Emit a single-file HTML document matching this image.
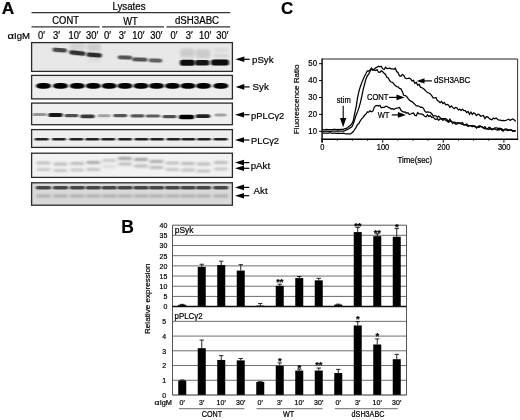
<!DOCTYPE html>
<html><head><meta charset="utf-8"><style>
html,body{margin:0;padding:0;background:#fff;}
svg{display:block;font-family:"Liberation Sans", sans-serif;will-change:transform;}
text{stroke:#000;stroke-width:0.2px;}


</style></head><body>
<svg width="520" height="420" viewBox="0 0 520 420">
<rect width="520" height="420" fill="#fff"/>
<text x="1.80" y="13.70" font-size="17.3" text-anchor="start" font-weight="bold" fill="#000" >A</text>
<text transform="translate(129.00,9.50) scale(1,1.06)" font-size="9.7" text-anchor="middle" font-weight="normal" fill="#000" >Lysates</text>
<line x1="31.50" y1="12.70" x2="230.20" y2="12.70" stroke="#333" stroke-width="1.2"/>
<text transform="translate(65.60,23.90) scale(1,1.08)" font-size="9.4" text-anchor="middle" font-weight="normal" fill="#000" >CONT</text>
<text transform="translate(130.50,24.90) scale(1,1.08)" font-size="9.3" text-anchor="middle" font-weight="normal" fill="#000" >WT</text>
<text transform="translate(197.00,23.90) scale(1,1.05)" font-size="9.7" text-anchor="middle" font-weight="normal" fill="#000" >dSH3ABC</text>
<line x1="31.50" y1="26.90" x2="99.60" y2="26.90" stroke="#333" stroke-width="1.2"/>
<line x1="102.10" y1="26.90" x2="164.00" y2="26.90" stroke="#333" stroke-width="1.2"/>
<line x1="166.50" y1="26.90" x2="230.20" y2="26.90" stroke="#333" stroke-width="1.2"/>
<text transform="translate(7.4,39.0) scale(1.18,1.0)" font-size="9.6">&#945;</text>
<text transform="translate(14.00,39.00) scale(1,1.02)" font-size="9.5" text-anchor="start" font-weight="normal" fill="#000" >IgM</text>
<text transform="translate(41.50,39.00) scale(1,1.08)" font-size="9.4" text-anchor="middle" font-weight="normal" fill="#000" >0&#8242;</text>
<text transform="translate(56.60,39.00) scale(1,1.08)" font-size="9.4" text-anchor="middle" font-weight="normal" fill="#000" >3&#8242;</text>
<text transform="translate(74.70,39.00) scale(1,1.08)" font-size="9.4" text-anchor="middle" font-weight="normal" fill="#000" >10&#8242;</text>
<text transform="translate(92.20,39.00) scale(1,1.08)" font-size="9.4" text-anchor="middle" font-weight="normal" fill="#000" >30&#8242;</text>
<text transform="translate(107.40,39.00) scale(1,1.08)" font-size="9.4" text-anchor="middle" font-weight="normal" fill="#000" >0&#8242;</text>
<text transform="translate(122.30,39.00) scale(1,1.08)" font-size="9.4" text-anchor="middle" font-weight="normal" fill="#000" >3&#8242;</text>
<text transform="translate(138.30,39.00) scale(1,1.08)" font-size="9.4" text-anchor="middle" font-weight="normal" fill="#000" >10&#8242;</text>
<text transform="translate(156.40,39.00) scale(1,1.08)" font-size="9.4" text-anchor="middle" font-weight="normal" fill="#000" >30&#8242;</text>
<text transform="translate(173.90,39.00) scale(1,1.08)" font-size="9.4" text-anchor="middle" font-weight="normal" fill="#000" >0&#8242;</text>
<text transform="translate(189.20,39.00) scale(1,1.08)" font-size="9.4" text-anchor="middle" font-weight="normal" fill="#000" >3&#8242;</text>
<text transform="translate(205.10,39.00) scale(1,1.08)" font-size="9.4" text-anchor="middle" font-weight="normal" fill="#000" >10&#8242;</text>
<text transform="translate(222.30,39.00) scale(1,1.08)" font-size="9.4" text-anchor="middle" font-weight="normal" fill="#000" >30&#8242;</text>
<defs><filter id="b1" x="-30%" y="-100%" width="160%" height="300%"><feGaussianBlur stdDeviation="1.0 0.75"/></filter><filter id="b2" x="-30%" y="-100%" width="160%" height="300%"><feGaussianBlur stdDeviation="1.6 1.6"/></filter><filter id="b3" x="-30%" y="-100%" width="160%" height="300%"><feGaussianBlur stdDeviation="1.5 1.1"/></filter><clipPath id="cpc"><rect x="322" y="59" width="195" height="80"/></clipPath></defs>
<rect x="31.6" y="42.60" width="200.8" height="28.80" fill="#e8e8e8"/>
<rect x="31.6" y="75.40" width="200.8" height="23.50" fill="#eeeeee"/>
<rect x="31.6" y="103.10" width="200.8" height="21.60" fill="#efefef"/>
<rect x="31.6" y="129.60" width="200.8" height="17.80" fill="#eeeeee"/>
<rect x="31.6" y="153.20" width="200.8" height="24.20" fill="#f2f2f2"/>
<rect x="31.6" y="182.80" width="200.8" height="22.40" fill="#d9d9d9"/>
<g>
<rect x="70.00" y="43.00" width="15.00" height="7.00" rx="2.50" ry="2.50" fill="rgb(209,209,209)" filter="url(#b2)"/>
<rect x="87.00" y="44.00" width="14.00" height="7.00" rx="2.50" ry="2.50" fill="rgb(204,204,204)" filter="url(#b2)"/>
<rect x="87.00" y="58.00" width="14.00" height="4.00" rx="2.00" ry="2.00" fill="rgb(218,218,218)" filter="url(#b2)"/>
<rect x="180.50" y="49.00" width="14.00" height="8.00" rx="2.50" ry="2.50" fill="rgb(200,200,200)" filter="url(#b2)"/>
<rect x="181.00" y="49.50" width="13.00" height="2.00" rx="1.00" ry="1.00" fill="rgb(209,209,209)" filter="url(#b2)"/>
<rect x="181.00" y="54.50" width="13.00" height="2.00" rx="1.00" ry="1.00" fill="rgb(209,209,209)" filter="url(#b2)"/>
<rect x="196.00" y="49.50" width="14.00" height="8.00" rx="2.50" ry="2.50" fill="rgb(200,200,200)" filter="url(#b2)"/>
<rect x="196.50" y="50.00" width="13.00" height="2.00" rx="1.00" ry="1.00" fill="rgb(209,209,209)" filter="url(#b2)"/>
<rect x="196.50" y="55.00" width="13.00" height="2.00" rx="1.00" ry="1.00" fill="rgb(204,204,204)" filter="url(#b2)"/>
<rect x="213.50" y="48.75" width="15.00" height="2.50" rx="1.25" ry="1.25" fill="rgb(209,209,209)" filter="url(#b2)"/>
<rect x="213.50" y="54.25" width="15.00" height="2.50" rx="1.25" ry="1.25" fill="rgb(204,204,204)" filter="url(#b2)"/>
<rect x="52.45" y="48.00" width="14.50" height="4.20" rx="2.10" ry="2.10" fill="rgb(70,70,70)" filter="url(#b1)" transform="rotate(4 59.7 50.1)"/>
<rect x="69.15" y="50.75" width="16.50" height="4.50" rx="2.25" ry="2.25" fill="rgb(51,51,51)" filter="url(#b1)" transform="rotate(6 77.4 53.0)"/>
<rect x="86.45" y="52.70" width="15.50" height="4.60" rx="2.30" ry="2.30" fill="rgb(42,42,42)" filter="url(#b1)" transform="rotate(4 94.2 55.0)"/>
<rect x="117.75" y="55.60" width="14.50" height="4.00" rx="2.00" ry="2.00" fill="rgb(84,84,84)" filter="url(#b1)" transform="rotate(2 125.0 57.6)"/>
<rect x="132.05" y="57.40" width="15.50" height="4.00" rx="2.00" ry="2.00" fill="rgb(84,84,84)" filter="url(#b1)" transform="rotate(2 139.8 59.4)"/>
<rect x="148.75" y="58.60" width="13.50" height="4.00" rx="2.00" ry="2.00" fill="rgb(97,97,97)" filter="url(#b1)" transform="rotate(2 155.5 60.6)"/>
<rect x="179.90" y="59.80" width="15.00" height="6.00" rx="2.50" ry="2.50" fill="rgb(12,12,12)" filter="url(#b1)"/>
<rect x="194.90" y="60.00" width="14.60" height="5.60" rx="2.50" ry="2.50" fill="rgb(19,19,19)" filter="url(#b1)"/>
<rect x="211.00" y="59.40" width="18.00" height="6.00" rx="2.50" ry="2.50" fill="rgb(12,12,12)" filter="url(#b1)"/>
</g>
<rect x="36.20" y="83.10" width="14.60" height="5.60" rx="5.50" ry="2.50" fill="rgb(0,0,0)" filter="url(#b1)"/>
<rect x="53.20" y="83.10" width="14.60" height="5.60" rx="5.50" ry="2.50" fill="rgb(0,0,0)" filter="url(#b1)"/>
<rect x="70.00" y="83.10" width="14.60" height="5.60" rx="5.50" ry="2.50" fill="rgb(0,0,0)" filter="url(#b1)"/>
<rect x="86.00" y="83.10" width="14.60" height="5.60" rx="5.50" ry="2.50" fill="rgb(0,0,0)" filter="url(#b1)"/>
<rect x="101.90" y="83.10" width="14.60" height="5.60" rx="5.50" ry="2.50" fill="rgb(0,0,0)" filter="url(#b1)"/>
<rect x="117.70" y="83.10" width="14.60" height="5.60" rx="5.50" ry="2.50" fill="rgb(0,0,0)" filter="url(#b1)"/>
<rect x="133.70" y="83.10" width="14.60" height="5.60" rx="5.50" ry="2.50" fill="rgb(0,0,0)" filter="url(#b1)"/>
<rect x="149.20" y="83.10" width="14.60" height="5.60" rx="5.50" ry="2.50" fill="rgb(0,0,0)" filter="url(#b1)"/>
<rect x="165.20" y="83.10" width="14.60" height="5.60" rx="5.50" ry="2.50" fill="rgb(0,0,0)" filter="url(#b1)"/>
<rect x="180.70" y="83.10" width="14.60" height="5.60" rx="5.50" ry="2.50" fill="rgb(0,0,0)" filter="url(#b1)"/>
<rect x="196.20" y="83.10" width="14.60" height="5.60" rx="5.50" ry="2.50" fill="rgb(0,0,0)" filter="url(#b1)"/>
<rect x="213.50" y="83.10" width="14.60" height="5.60" rx="5.50" ry="2.50" fill="rgb(0,0,0)" filter="url(#b1)"/>
<rect x="32.50" y="113.10" width="14.00" height="3.00" rx="1.50" ry="1.50" fill="rgb(148,148,148)" filter="url(#b1)"/>
<rect x="48.25" y="113.10" width="14.50" height="3.80" rx="1.90" ry="1.90" fill="rgb(23,23,23)" filter="url(#b1)"/>
<rect x="64.50" y="113.90" width="14.00" height="3.40" rx="1.70" ry="1.70" fill="rgb(79,79,79)" filter="url(#b1)"/>
<rect x="80.25" y="114.60" width="14.50" height="3.60" rx="1.80" ry="1.80" fill="rgb(56,56,56)" filter="url(#b1)"/>
<rect x="97.50" y="114.30" width="13.00" height="3.00" rx="1.50" ry="1.50" fill="rgb(162,162,162)" filter="url(#b1)"/>
<rect x="113.30" y="114.00" width="14.00" height="3.20" rx="1.60" ry="1.60" fill="rgb(84,84,84)" filter="url(#b1)"/>
<rect x="130.50" y="114.20" width="14.00" height="3.20" rx="1.60" ry="1.60" fill="rgb(88,88,88)" filter="url(#b1)"/>
<rect x="145.75" y="114.40" width="14.50" height="3.20" rx="1.60" ry="1.60" fill="rgb(93,93,93)" filter="url(#b1)"/>
<rect x="162.50" y="115.00" width="14.00" height="3.20" rx="1.60" ry="1.60" fill="rgb(79,79,79)" filter="url(#b1)"/>
<rect x="178.75" y="114.70" width="15.50" height="4.60" rx="2.30" ry="2.30" fill="rgb(0,0,0)" filter="url(#b1)"/>
<rect x="195.75" y="114.30" width="14.50" height="3.80" rx="1.90" ry="1.90" fill="rgb(35,35,35)" filter="url(#b1)"/>
<rect x="214.50" y="113.50" width="12.00" height="3.00" rx="1.50" ry="1.50" fill="rgb(162,162,162)" filter="url(#b1)"/>
<rect x="34.70" y="138.00" width="14.00" height="2.40" rx="1.20" ry="1.20" fill="rgb(32,32,32)" filter="url(#b1)"/>
<rect x="52.00" y="138.00" width="14.00" height="2.40" rx="1.20" ry="1.20" fill="rgb(32,32,32)" filter="url(#b1)"/>
<rect x="69.30" y="138.00" width="14.00" height="2.40" rx="1.20" ry="1.20" fill="rgb(32,32,32)" filter="url(#b1)"/>
<rect x="85.30" y="138.00" width="14.00" height="2.40" rx="1.20" ry="1.20" fill="rgb(32,32,32)" filter="url(#b1)"/>
<rect x="101.20" y="138.00" width="14.00" height="2.40" rx="1.20" ry="1.20" fill="rgb(32,32,32)" filter="url(#b1)"/>
<rect x="118.00" y="138.00" width="14.00" height="2.40" rx="1.20" ry="1.20" fill="rgb(32,32,32)" filter="url(#b1)"/>
<rect x="134.50" y="138.00" width="14.00" height="2.40" rx="1.20" ry="1.20" fill="rgb(32,32,32)" filter="url(#b1)"/>
<rect x="150.00" y="138.00" width="14.00" height="2.40" rx="1.20" ry="1.20" fill="rgb(32,32,32)" filter="url(#b1)"/>
<rect x="166.50" y="138.00" width="14.00" height="2.40" rx="1.20" ry="1.20" fill="rgb(32,32,32)" filter="url(#b1)"/>
<rect x="181.40" y="138.00" width="14.00" height="2.40" rx="1.20" ry="1.20" fill="rgb(32,32,32)" filter="url(#b1)"/>
<rect x="197.00" y="138.00" width="14.00" height="2.40" rx="1.20" ry="1.20" fill="rgb(32,32,32)" filter="url(#b1)"/>
<rect x="213.50" y="138.00" width="14.00" height="2.40" rx="1.20" ry="1.20" fill="rgb(32,32,32)" filter="url(#b1)"/>
<rect x="36.50" y="161.50" width="14.00" height="3.00" rx="1.50" ry="1.50" fill="rgb(189,189,189)" filter="url(#b3)"/>
<rect x="36.50" y="167.90" width="14.00" height="3.00" rx="1.50" ry="1.50" fill="rgb(198,198,198)" filter="url(#b3)"/>
<rect x="53.50" y="162.50" width="14.00" height="3.00" rx="1.50" ry="1.50" fill="rgb(185,185,185)" filter="url(#b3)"/>
<rect x="53.50" y="168.90" width="14.00" height="3.00" rx="1.50" ry="1.50" fill="rgb(197,197,197)" filter="url(#b3)"/>
<rect x="70.30" y="162.10" width="14.00" height="3.00" rx="1.50" ry="1.50" fill="rgb(185,185,185)" filter="url(#b3)"/>
<rect x="70.30" y="168.50" width="14.00" height="3.00" rx="1.50" ry="1.50" fill="rgb(197,197,197)" filter="url(#b3)"/>
<rect x="86.30" y="160.90" width="14.00" height="3.00" rx="1.50" ry="1.50" fill="rgb(169,169,169)" filter="url(#b3)"/>
<rect x="86.30" y="168.10" width="14.00" height="3.00" rx="1.50" ry="1.50" fill="rgb(193,193,193)" filter="url(#b3)"/>
<rect x="102.20" y="158.90" width="14.00" height="3.00" rx="1.50" ry="1.50" fill="rgb(200,200,200)" filter="url(#b3)"/>
<rect x="102.20" y="164.90" width="14.00" height="3.00" rx="1.50" ry="1.50" fill="rgb(220,220,220)" filter="url(#b3)"/>
<rect x="118.00" y="156.90" width="14.00" height="3.00" rx="1.50" ry="1.50" fill="rgb(161,161,161)" filter="url(#b3)"/>
<rect x="118.00" y="162.50" width="14.00" height="3.00" rx="1.50" ry="1.50" fill="rgb(189,189,189)" filter="url(#b3)"/>
<rect x="134.00" y="157.90" width="14.00" height="3.00" rx="1.50" ry="1.50" fill="rgb(161,161,161)" filter="url(#b3)"/>
<rect x="134.00" y="164.50" width="14.00" height="3.00" rx="1.50" ry="1.50" fill="rgb(185,185,185)" filter="url(#b3)"/>
<rect x="149.50" y="159.90" width="14.00" height="3.00" rx="1.50" ry="1.50" fill="rgb(169,169,169)" filter="url(#b3)"/>
<rect x="149.50" y="166.10" width="14.00" height="3.00" rx="1.50" ry="1.50" fill="rgb(185,185,185)" filter="url(#b3)"/>
<rect x="165.50" y="161.50" width="14.00" height="3.00" rx="1.50" ry="1.50" fill="rgb(189,189,189)" filter="url(#b3)"/>
<rect x="165.50" y="167.90" width="14.00" height="3.00" rx="1.50" ry="1.50" fill="rgb(197,197,197)" filter="url(#b3)"/>
<rect x="181.00" y="162.10" width="14.00" height="3.00" rx="1.50" ry="1.50" fill="rgb(185,185,185)" filter="url(#b3)"/>
<rect x="181.00" y="168.50" width="14.00" height="3.00" rx="1.50" ry="1.50" fill="rgb(193,193,193)" filter="url(#b3)"/>
<rect x="196.50" y="162.50" width="14.00" height="3.00" rx="1.50" ry="1.50" fill="rgb(185,185,185)" filter="url(#b3)"/>
<rect x="196.50" y="169.50" width="14.00" height="3.00" rx="1.50" ry="1.50" fill="rgb(193,193,193)" filter="url(#b3)"/>
<rect x="213.80" y="160.90" width="14.00" height="3.00" rx="1.50" ry="1.50" fill="rgb(185,185,185)" filter="url(#b3)"/>
<rect x="213.80" y="167.50" width="14.00" height="3.00" rx="1.50" ry="1.50" fill="rgb(197,197,197)" filter="url(#b3)"/>
<rect x="35.75" y="186.10" width="15.50" height="3.40" rx="1.70" ry="1.70" fill="rgb(70,70,70)" filter="url(#b1)"/>
<rect x="36.00" y="194.40" width="15.00" height="3.20" rx="1.60" ry="1.60" fill="rgb(172,172,172)" filter="url(#b3)"/>
<rect x="52.75" y="186.10" width="15.50" height="3.40" rx="1.70" ry="1.70" fill="rgb(70,70,70)" filter="url(#b1)"/>
<rect x="53.00" y="194.40" width="15.00" height="3.20" rx="1.60" ry="1.60" fill="rgb(172,172,172)" filter="url(#b3)"/>
<rect x="69.55" y="186.10" width="15.50" height="3.40" rx="1.70" ry="1.70" fill="rgb(70,70,70)" filter="url(#b1)"/>
<rect x="69.80" y="194.40" width="15.00" height="3.20" rx="1.60" ry="1.60" fill="rgb(172,172,172)" filter="url(#b3)"/>
<rect x="85.55" y="186.10" width="15.50" height="3.40" rx="1.70" ry="1.70" fill="rgb(70,70,70)" filter="url(#b1)"/>
<rect x="85.80" y="194.40" width="15.00" height="3.20" rx="1.60" ry="1.60" fill="rgb(172,172,172)" filter="url(#b3)"/>
<rect x="101.45" y="186.10" width="15.50" height="3.40" rx="1.70" ry="1.70" fill="rgb(70,70,70)" filter="url(#b1)"/>
<rect x="101.70" y="194.40" width="15.00" height="3.20" rx="1.60" ry="1.60" fill="rgb(172,172,172)" filter="url(#b3)"/>
<rect x="117.25" y="186.10" width="15.50" height="3.40" rx="1.70" ry="1.70" fill="rgb(70,70,70)" filter="url(#b1)"/>
<rect x="117.50" y="194.40" width="15.00" height="3.20" rx="1.60" ry="1.60" fill="rgb(172,172,172)" filter="url(#b3)"/>
<rect x="133.25" y="186.10" width="15.50" height="3.40" rx="1.70" ry="1.70" fill="rgb(70,70,70)" filter="url(#b1)"/>
<rect x="133.50" y="194.40" width="15.00" height="3.20" rx="1.60" ry="1.60" fill="rgb(172,172,172)" filter="url(#b3)"/>
<rect x="148.75" y="186.10" width="15.50" height="3.40" rx="1.70" ry="1.70" fill="rgb(70,70,70)" filter="url(#b1)"/>
<rect x="149.00" y="194.40" width="15.00" height="3.20" rx="1.60" ry="1.60" fill="rgb(172,172,172)" filter="url(#b3)"/>
<rect x="164.75" y="186.10" width="15.50" height="3.40" rx="1.70" ry="1.70" fill="rgb(70,70,70)" filter="url(#b1)"/>
<rect x="165.00" y="194.40" width="15.00" height="3.20" rx="1.60" ry="1.60" fill="rgb(172,172,172)" filter="url(#b3)"/>
<rect x="180.25" y="186.10" width="15.50" height="3.40" rx="1.70" ry="1.70" fill="rgb(70,70,70)" filter="url(#b1)"/>
<rect x="180.50" y="194.40" width="15.00" height="3.20" rx="1.60" ry="1.60" fill="rgb(172,172,172)" filter="url(#b3)"/>
<rect x="195.75" y="186.10" width="15.50" height="3.40" rx="1.70" ry="1.70" fill="rgb(70,70,70)" filter="url(#b1)"/>
<rect x="196.00" y="194.40" width="15.00" height="3.20" rx="1.60" ry="1.60" fill="rgb(172,172,172)" filter="url(#b3)"/>
<rect x="213.05" y="186.10" width="15.50" height="3.40" rx="1.70" ry="1.70" fill="rgb(70,70,70)" filter="url(#b1)"/>
<rect x="213.30" y="194.40" width="15.00" height="3.20" rx="1.60" ry="1.60" fill="rgb(172,172,172)" filter="url(#b3)"/>
<rect x="31.6" y="42.60" width="200.8" height="28.80" fill="none" stroke="#2a2a2a" stroke-width="1.3"/>
<rect x="31.6" y="75.40" width="200.8" height="23.50" fill="none" stroke="#2a2a2a" stroke-width="1.3"/>
<rect x="31.6" y="103.10" width="200.8" height="21.60" fill="none" stroke="#2a2a2a" stroke-width="1.3"/>
<rect x="31.6" y="129.60" width="200.8" height="17.80" fill="none" stroke="#2a2a2a" stroke-width="1.3"/>
<rect x="31.6" y="153.20" width="200.8" height="24.20" fill="none" stroke="#2a2a2a" stroke-width="1.3"/>
<rect x="31.6" y="182.80" width="200.8" height="22.40" fill="none" stroke="#2a2a2a" stroke-width="1.3"/>
<path d="M235.40,59.30 L244.30,56.50 L244.30,62.10 Z" fill="#000"/>
<line x1="243.80" y1="59.30" x2="249.70" y2="59.30" stroke="#000" stroke-width="1.2"/>
<text x="252.00" y="62.60" font-size="9.7" text-anchor="start" font-weight="normal" fill="#000" >pSyk</text>
<path d="M235.60,86.90 L244.30,84.10 L244.30,89.70 Z" fill="#000"/>
<line x1="243.80" y1="86.90" x2="249.70" y2="86.90" stroke="#000" stroke-width="1.2"/>
<text x="252.60" y="90.20" font-size="9.7" text-anchor="start" font-weight="normal" fill="#000" >Syk</text>
<path d="M235.00,114.70 L244.00,111.90 L244.00,117.50 Z" fill="#000"/>
<line x1="243.50" y1="114.70" x2="249.50" y2="114.70" stroke="#000" stroke-width="1.2"/>
<text transform="translate(251.10,118.70) scale(1,1.04)" font-size="9.35" text-anchor="start" font-weight="normal" fill="#000" >pPLC&#947;2</text>
<path d="M235.00,140.00 L244.00,137.20 L244.00,142.80 Z" fill="#000"/>
<line x1="243.50" y1="140.00" x2="249.50" y2="140.00" stroke="#000" stroke-width="1.2"/>
<text transform="translate(251.00,144.00) scale(1,1.04)" font-size="9.35" text-anchor="start" font-weight="normal" fill="#000" >PLC&#947;2</text>
<path d="M235.00,162.60 L244.00,159.80 L244.00,165.40 Z" fill="#000"/>
<line x1="243.50" y1="162.60" x2="249.30" y2="162.60" stroke="#000" stroke-width="1.2"/>
<path d="M235.00,168.30 L244.00,165.50 L244.00,171.10 Z" fill="#000"/>
<line x1="243.50" y1="168.30" x2="249.30" y2="168.30" stroke="#000" stroke-width="1.2"/>
<text x="250.70" y="169.20" font-size="9.7" text-anchor="start" font-weight="normal" fill="#000" >pAkt</text>
<path d="M235.00,187.40 L244.00,184.60 L244.00,190.20 Z" fill="#000"/>
<line x1="243.50" y1="187.40" x2="249.30" y2="187.40" stroke="#000" stroke-width="1.2"/>
<path d="M235.00,195.70 L244.00,192.90 L244.00,198.50 Z" fill="#000"/>
<line x1="243.50" y1="195.70" x2="249.30" y2="195.70" stroke="#000" stroke-width="1.2"/>
<text x="253.60" y="194.40" font-size="9.7" text-anchor="start" font-weight="normal" fill="#000" >Akt</text>
<text x="280.90" y="14.10" font-size="17.0" text-anchor="start" font-weight="bold" fill="#000" >C</text>
<line x1="322.10" y1="59.00" x2="517.60" y2="59.00" stroke="#222" stroke-width="1.2"/>
<line x1="517.60" y1="59.00" x2="517.60" y2="139.20" stroke="#333" stroke-width="1.0"/>
<line x1="322.10" y1="58.40" x2="322.10" y2="142.50" stroke="#000" stroke-width="1.4"/>
<line x1="321.40" y1="139.20" x2="518.10" y2="139.20" stroke="#000" stroke-width="1.4"/>
<line x1="319.00" y1="131.30" x2="322.10" y2="131.30" stroke="#000" stroke-width="1.0"/>
<text transform="translate(317.00,133.60) scale(1,1.13)" font-size="7.8" text-anchor="end" font-weight="normal" fill="#000" >10</text>
<line x1="319.00" y1="114.40" x2="322.10" y2="114.40" stroke="#000" stroke-width="1.0"/>
<text transform="translate(317.00,116.70) scale(1,1.13)" font-size="7.8" text-anchor="end" font-weight="normal" fill="#000" >20</text>
<line x1="319.00" y1="97.50" x2="322.10" y2="97.50" stroke="#000" stroke-width="1.0"/>
<text transform="translate(317.00,99.80) scale(1,1.13)" font-size="7.8" text-anchor="end" font-weight="normal" fill="#000" >30</text>
<line x1="319.00" y1="80.60" x2="322.10" y2="80.60" stroke="#000" stroke-width="1.0"/>
<text transform="translate(317.00,82.90) scale(1,1.13)" font-size="7.8" text-anchor="end" font-weight="normal" fill="#000" >40</text>
<line x1="319.00" y1="63.70" x2="322.10" y2="63.70" stroke="#000" stroke-width="1.0"/>
<text transform="translate(317.00,66.00) scale(1,1.13)" font-size="7.8" text-anchor="end" font-weight="normal" fill="#000" >50</text>
<line x1="322.10" y1="139.20" x2="322.10" y2="142.60" stroke="#000" stroke-width="1.0"/>
<line x1="337.25" y1="139.20" x2="337.25" y2="140.80" stroke="#000" stroke-width="0.8"/>
<line x1="352.40" y1="139.20" x2="352.40" y2="140.80" stroke="#000" stroke-width="0.8"/>
<line x1="367.55" y1="139.20" x2="367.55" y2="140.80" stroke="#000" stroke-width="0.8"/>
<line x1="382.70" y1="139.20" x2="382.70" y2="142.60" stroke="#000" stroke-width="1.0"/>
<line x1="397.85" y1="139.20" x2="397.85" y2="140.80" stroke="#000" stroke-width="0.8"/>
<line x1="413.00" y1="139.20" x2="413.00" y2="140.80" stroke="#000" stroke-width="0.8"/>
<line x1="428.15" y1="139.20" x2="428.15" y2="140.80" stroke="#000" stroke-width="0.8"/>
<line x1="443.30" y1="139.20" x2="443.30" y2="142.60" stroke="#000" stroke-width="1.0"/>
<line x1="458.45" y1="139.20" x2="458.45" y2="140.80" stroke="#000" stroke-width="0.8"/>
<line x1="473.60" y1="139.20" x2="473.60" y2="140.80" stroke="#000" stroke-width="0.8"/>
<line x1="488.75" y1="139.20" x2="488.75" y2="140.80" stroke="#000" stroke-width="0.8"/>
<line x1="503.90" y1="139.20" x2="503.90" y2="142.60" stroke="#000" stroke-width="1.0"/>
<text transform="translate(322.40,150.30) scale(1,1.13)" font-size="7.5" text-anchor="middle" font-weight="normal" fill="#000" >0</text>
<text transform="translate(383.00,150.30) scale(1,1.13)" font-size="7.5" text-anchor="middle" font-weight="normal" fill="#000" >100</text>
<text transform="translate(443.60,150.30) scale(1,1.13)" font-size="7.5" text-anchor="middle" font-weight="normal" fill="#000" >200</text>
<text transform="translate(504.20,150.30) scale(1,1.13)" font-size="7.5" text-anchor="middle" font-weight="normal" fill="#000" >300</text>
<text transform="translate(414.80,162.60) scale(1,1.07)" font-size="7.9" text-anchor="middle" font-weight="normal" fill="#000" >Time(sec)</text>
<text x="0" y="0" font-size="8.1" text-anchor="middle" transform="translate(299.4,99.3) rotate(-90)">Fluorescence Ratio</text>
<g fill="none" stroke="#000" stroke-width="1.25" stroke-linejoin="miter">
<path d="M322.50,129.44 L323.90,129.75 L325.30,129.70 L326.70,129.47 L328.10,129.57 L329.50,129.54 L330.90,129.63 L332.30,129.68 L333.70,129.37 L335.10,129.33 L336.50,129.68 L337.90,129.50 L339.30,129.63 L340.70,129.29 L342.10,129.48 L343.50,129.38 L344.90,128.57 L346.30,128.29 L347.70,127.52 L349.10,126.23 L350.50,125.24 L351.90,123.74 L353.30,120.49 L354.70,113.31 L356.10,107.06 L357.50,98.10 L358.90,91.46 L360.30,86.67 L361.70,82.87 L363.10,79.49 L364.50,76.27 L365.90,73.68 L367.30,70.84 L368.70,71.02 L370.10,70.05 L371.50,68.13 L372.90,70.21 L374.30,69.92 L375.70,70.57 L377.10,69.70 L378.50,72.24 L379.90,72.25 L381.30,70.72 L382.70,71.77 L384.10,73.29 L385.50,74.39 L386.90,77.28 L388.30,78.04 L389.70,80.79 L391.10,82.00 L392.50,82.37 L393.90,83.98 L395.30,85.61 L396.70,86.56 L398.10,86.90 L399.50,88.39 L400.90,88.78 L402.30,91.59 L403.70,95.32 L405.10,95.69 L406.50,96.20 L407.90,98.38 L409.30,99.96 L410.70,101.10 L412.10,101.55 L413.50,102.99 L414.90,104.43 L416.30,105.90 L417.70,105.91 L419.10,106.26 L420.50,107.32 L421.90,107.06 L423.30,108.08 L424.70,110.84 L426.10,112.35 L427.50,112.00 L428.90,112.16 L430.30,112.24 L431.70,113.77 L433.10,115.70 L434.50,115.76 L435.90,115.76 L437.30,117.26 L438.70,116.19 L440.10,117.57 L441.50,119.17 L442.90,118.58 L444.30,118.68 L445.70,118.59 L447.10,119.76 L448.50,121.28 L449.90,119.14 L451.30,121.58 L452.70,122.01 L454.10,122.53 L455.50,122.47 L456.90,122.99 L458.30,122.54 L459.70,122.99 L461.10,123.02 L462.50,122.43 L463.90,125.03 L465.30,124.63 L466.70,124.03 L468.10,125.26 L469.50,125.61 L470.90,125.54 L472.30,125.71 L473.70,126.42 L475.10,126.85 L476.50,127.01 L477.90,126.79 L479.30,125.83 L480.70,126.57 L482.10,126.62 L483.50,127.92 L484.90,128.86 L486.30,128.89 L487.70,129.08 L489.10,129.33 L490.50,127.99 L491.90,129.71 L493.30,129.39 L494.70,127.94 L496.10,127.89 L497.50,128.03 L498.90,130.16 L500.30,128.93 L501.70,128.69 L503.10,130.22 L504.50,129.60 L505.90,129.00 L507.30,129.38 L508.70,130.51 L510.10,129.68 L511.50,130.10 L512.90,131.42 L514.30,130.86 L515.70,130.64"/>
<path d="M322.50,131.50 L323.90,131.48 L325.30,131.08 L326.70,131.08 L328.10,131.39 L329.50,131.34 L330.90,131.29 L332.30,131.12 L333.70,131.24 L335.10,131.22 L336.50,131.20 L337.90,131.00 L339.30,131.11 L340.70,131.08 L342.10,131.21 L343.50,131.14 L344.90,130.61 L346.30,129.93 L347.70,129.38 L349.10,128.59 L350.50,127.65 L351.90,126.87 L353.30,123.76 L354.70,119.56 L356.10,115.23 L357.50,111.88 L358.90,107.83 L360.30,102.94 L361.70,96.87 L363.10,89.93 L364.50,84.51 L365.90,79.21 L367.30,75.93 L368.70,74.08 L370.10,71.27 L371.50,68.85 L372.90,69.97 L374.30,68.90 L375.70,67.80 L377.10,67.19 L378.50,66.29 L379.90,66.88 L381.30,66.29 L382.70,68.82 L384.10,69.53 L385.50,67.16 L386.90,68.55 L388.30,68.38 L389.70,68.15 L391.10,68.79 L392.50,68.76 L393.90,69.32 L395.30,68.23 L396.70,71.60 L398.10,72.73 L399.50,75.91 L400.90,76.22 L402.30,74.47 L403.70,75.32 L405.10,77.95 L406.50,78.64 L407.90,78.39 L409.30,78.06 L410.70,78.98 L412.10,80.90 L413.50,80.37 L414.90,83.29 L416.30,82.47 L417.70,85.12 L419.10,84.40 L420.50,87.18 L421.90,87.77 L423.30,88.48 L424.70,89.78 L426.10,91.40 L427.50,92.49 L428.90,93.00 L430.30,93.92 L431.70,95.72 L433.10,97.84 L434.50,97.98 L435.90,97.48 L437.30,100.48 L438.70,101.20 L440.10,102.65 L441.50,101.42 L442.90,103.61 L444.30,102.46 L445.70,104.76 L447.10,104.44 L448.50,105.01 L449.90,107.46 L451.30,105.83 L452.70,107.37 L454.10,108.69 L455.50,107.46 L456.90,107.79 L458.30,110.02 L459.70,109.20 L461.10,110.50 L462.50,109.19 L463.90,110.61 L465.30,110.63 L466.70,112.51 L468.10,111.45 L469.50,114.34 L470.90,112.22 L472.30,114.43 L473.70,112.82 L475.10,113.76 L476.50,115.58 L477.90,114.11 L479.30,114.49 L480.70,116.26 L482.10,115.93 L483.50,115.49 L484.90,118.54 L486.30,116.76 L487.70,116.94 L489.10,118.26 L490.50,119.34 L491.90,119.75 L493.30,118.12 L494.70,118.80 L496.10,118.04 L497.50,119.24 L498.90,120.16 L500.30,120.16 L501.70,120.66 L503.10,120.32 L504.50,120.67 L505.90,120.30 L507.30,119.74 L508.70,119.13 L510.10,120.36 L511.50,119.49 L512.90,118.97 L514.30,119.97 L515.70,121.18"/>
<path d="M322.50,132.98 L323.90,133.13 L325.30,133.07 L326.70,133.19 L328.10,133.21 L329.50,132.98 L330.90,132.97 L332.30,133.34 L333.70,133.10 L335.10,133.11 L336.50,133.45 L337.90,133.24 L339.30,133.41 L340.70,133.27 L342.10,133.35 L343.50,133.20 L344.90,133.55 L346.30,133.79 L347.70,133.78 L349.10,133.91 L350.50,133.90 L351.90,132.68 L353.30,131.62 L354.70,129.52 L356.10,127.32 L357.50,124.50 L358.90,123.64 L360.30,120.78 L361.70,118.93 L363.10,117.31 L364.50,115.28 L365.90,114.13 L367.30,111.87 L368.70,112.14 L370.10,110.82 L371.50,111.72 L372.90,111.14 L374.30,107.39 L375.70,105.70 L377.10,105.34 L378.50,105.96 L379.90,105.33 L381.30,107.87 L382.70,107.49 L384.10,107.40 L385.50,106.42 L386.90,106.37 L388.30,107.42 L389.70,107.84 L391.10,108.96 L392.50,108.57 L393.90,109.44 L395.30,108.48 L396.70,108.01 L398.10,107.81 L399.50,107.51 L400.90,110.29 L402.30,111.38 L403.70,112.02 L405.10,111.95 L406.50,113.18 L407.90,112.66 L409.30,114.56 L410.70,114.04 L412.10,113.43 L413.50,113.05 L414.90,115.39 L416.30,115.76 L417.70,112.58 L419.10,113.88 L420.50,113.86 L421.90,114.18 L423.30,114.84 L424.70,116.33 L426.10,116.82 L427.50,114.83 L428.90,116.62 L430.30,115.36 L431.70,117.57 L433.10,116.91 L434.50,118.79 L435.90,119.45 L437.30,118.56 L438.70,120.28 L440.10,118.82 L441.50,118.61 L442.90,120.44 L444.30,119.32 L445.70,120.19 L447.10,121.18 L448.50,122.15 L449.90,121.34 L451.30,121.22 L452.70,123.62 L454.10,122.29 L455.50,124.20 L456.90,124.20 L458.30,122.97 L459.70,123.36 L461.10,123.81 L462.50,124.46 L463.90,124.66 L465.30,124.88 L466.70,125.37 L468.10,126.55 L469.50,125.70 L470.90,125.74 L472.30,126.72 L473.70,125.61 L475.10,125.98 L476.50,128.00 L477.90,126.96 L479.30,127.23 L480.70,125.98 L482.10,127.27 L483.50,127.91 L484.90,126.59 L486.30,128.39 L487.70,128.63 L489.10,127.29 L490.50,128.99 L491.90,128.70 L493.30,129.41 L494.70,128.66 L496.10,129.76 L497.50,129.98 L498.90,128.18 L500.30,128.42 L501.70,130.22 L503.10,131.14 L504.50,129.35 L505.90,130.04 L507.30,130.55 L508.70,129.95 L510.10,130.20 L511.50,130.20 L512.90,130.49 L514.30,131.24 L515.70,130.58"/>
</g>
<text transform="translate(336.80,103.00) scale(1,1.13)" font-size="7.6" text-anchor="start" font-weight="normal" fill="#000" >stim</text>
<line x1="343.20" y1="105.70" x2="343.20" y2="119.00" stroke="#000" stroke-width="1.1"/>
<path d="M340.0,118 L346.3,118 L343.15,127.3 Z" fill="#000"/>
<text transform="translate(366.90,99.70) scale(1,1.13)" font-size="7.6" text-anchor="start" font-weight="normal" fill="#000" >CONT</text>
<path d="M404.60,97.40 L396.50,94.60 L396.50,100.20 Z" fill="#000"/>
<line x1="389.00" y1="97.40" x2="397.00" y2="97.40" stroke="#000" stroke-width="1.2"/>
<text transform="translate(377.70,117.60) scale(1,1.13)" font-size="7.6" text-anchor="start" font-weight="normal" fill="#000" >WT</text>
<path d="M406.00,114.90 L397.90,112.10 L397.90,117.70 Z" fill="#000"/>
<line x1="391.80" y1="114.90" x2="398.40" y2="114.90" stroke="#000" stroke-width="1.2"/>
<path d="M416.60,80.90 L424.50,78.20 L424.50,83.60 Z" fill="#000"/>
<line x1="424.00" y1="80.90" x2="431.90" y2="80.90" stroke="#000" stroke-width="1.2"/>
<text transform="translate(433.90,83.10) scale(1,1.13)" font-size="8" text-anchor="start" font-weight="normal" fill="#000" >dSH3ABC</text>
<text x="121.30" y="233.00" font-size="17.5" text-anchor="start" font-weight="bold" fill="#000" >B</text>
<line x1="172.50" y1="296.42" x2="406.50" y2="296.42" stroke="#707070" stroke-width="1.0"/>
<line x1="172.50" y1="286.24" x2="406.50" y2="286.24" stroke="#707070" stroke-width="1.0"/>
<line x1="172.50" y1="276.06" x2="406.50" y2="276.06" stroke="#707070" stroke-width="1.0"/>
<line x1="172.50" y1="265.88" x2="406.50" y2="265.88" stroke="#707070" stroke-width="1.0"/>
<line x1="172.50" y1="255.70" x2="406.50" y2="255.70" stroke="#707070" stroke-width="1.0"/>
<line x1="172.50" y1="245.52" x2="406.50" y2="245.52" stroke="#707070" stroke-width="1.0"/>
<line x1="172.50" y1="235.34" x2="406.50" y2="235.34" stroke="#707070" stroke-width="1.0"/>
<line x1="172.50" y1="380.27" x2="406.50" y2="380.27" stroke="#707070" stroke-width="1.0"/>
<line x1="172.50" y1="365.54" x2="406.50" y2="365.54" stroke="#707070" stroke-width="1.0"/>
<line x1="172.50" y1="350.81" x2="406.50" y2="350.81" stroke="#707070" stroke-width="1.0"/>
<line x1="172.50" y1="336.08" x2="406.50" y2="336.08" stroke="#707070" stroke-width="1.0"/>
<line x1="172.50" y1="321.35" x2="406.50" y2="321.35" stroke="#707070" stroke-width="1.0"/>
<line x1="172.50" y1="225.20" x2="406.50" y2="225.20" stroke="#555" stroke-width="1.0"/>
<line x1="172.50" y1="225.20" x2="172.50" y2="395.00" stroke="#555" stroke-width="1.0"/>
<line x1="406.50" y1="225.20" x2="406.50" y2="395.00" stroke="#555" stroke-width="1.0"/>
<text transform="translate(167.40,309.40) scale(1,1.13)" font-size="7.0" text-anchor="end" font-weight="normal" fill="#000" >0</text>
<text transform="translate(167.40,299.22) scale(1,1.13)" font-size="7.0" text-anchor="end" font-weight="normal" fill="#000" >5</text>
<text transform="translate(167.40,289.04) scale(1,1.13)" font-size="7.0" text-anchor="end" font-weight="normal" fill="#000" >10</text>
<text transform="translate(167.40,278.86) scale(1,1.13)" font-size="7.0" text-anchor="end" font-weight="normal" fill="#000" >15</text>
<text transform="translate(167.40,268.68) scale(1,1.13)" font-size="7.0" text-anchor="end" font-weight="normal" fill="#000" >20</text>
<text transform="translate(167.40,258.50) scale(1,1.13)" font-size="7.0" text-anchor="end" font-weight="normal" fill="#000" >25</text>
<text transform="translate(167.40,248.32) scale(1,1.13)" font-size="7.0" text-anchor="end" font-weight="normal" fill="#000" >30</text>
<text transform="translate(167.40,238.14) scale(1,1.13)" font-size="7.0" text-anchor="end" font-weight="normal" fill="#000" >35</text>
<text transform="translate(167.40,227.96) scale(1,1.13)" font-size="7.0" text-anchor="end" font-weight="normal" fill="#000" >40</text>
<text transform="translate(166.20,397.80) scale(1,1.13)" font-size="7.0" text-anchor="end" font-weight="normal" fill="#000" >0</text>
<text transform="translate(166.20,383.07) scale(1,1.13)" font-size="7.0" text-anchor="end" font-weight="normal" fill="#000" >1</text>
<text transform="translate(166.20,368.34) scale(1,1.13)" font-size="7.0" text-anchor="end" font-weight="normal" fill="#000" >2</text>
<text transform="translate(166.20,353.61) scale(1,1.13)" font-size="7.0" text-anchor="end" font-weight="normal" fill="#000" >3</text>
<text transform="translate(166.20,338.88) scale(1,1.13)" font-size="7.0" text-anchor="end" font-weight="normal" fill="#000" >4</text>
<text transform="translate(166.20,324.15) scale(1,1.13)" font-size="7.0" text-anchor="end" font-weight="normal" fill="#000" >5</text>
<text x="0" y="0" font-size="8.1" text-anchor="middle" transform="translate(150.4,298.7) rotate(-90)">Relative expression</text>
<text transform="translate(174.80,233.30) scale(1,1.13)" font-size="8.4" text-anchor="start" font-weight="normal" fill="#000" >pSyk</text>
<text transform="translate(174.50,319.00) scale(1,1.18)" font-size="7.9" text-anchor="start" font-weight="normal" fill="#000" >pPLC&#947;2</text>
<line x1="182.25" y1="304.36" x2="182.25" y2="304.77" stroke="#000" stroke-width="0.85"/>
<line x1="180.05" y1="304.36" x2="184.45" y2="304.36" stroke="#000" stroke-width="0.85"/>
<rect x="178.25" y="304.77" width="8.0" height="1.83" fill="#000"/>
<line x1="182.25" y1="379.98" x2="182.25" y2="380.56" stroke="#000" stroke-width="0.85"/>
<line x1="180.05" y1="379.98" x2="184.45" y2="379.98" stroke="#000" stroke-width="0.85"/>
<rect x="178.25" y="380.56" width="8.0" height="14.44" fill="#000"/>
<line x1="201.75" y1="264.25" x2="201.75" y2="266.90" stroke="#000" stroke-width="0.85"/>
<line x1="199.55" y1="264.25" x2="203.95" y2="264.25" stroke="#000" stroke-width="0.85"/>
<rect x="197.75" y="266.90" width="8.0" height="39.70" fill="#000"/>
<line x1="201.75" y1="340.06" x2="201.75" y2="348.16" stroke="#000" stroke-width="0.85"/>
<line x1="199.55" y1="340.06" x2="203.95" y2="340.06" stroke="#000" stroke-width="0.85"/>
<rect x="197.75" y="348.16" width="8.0" height="46.84" fill="#000"/>
<line x1="221.25" y1="261.20" x2="221.25" y2="265.07" stroke="#000" stroke-width="0.85"/>
<line x1="219.05" y1="261.20" x2="223.45" y2="261.20" stroke="#000" stroke-width="0.85"/>
<rect x="217.25" y="265.07" width="8.0" height="41.53" fill="#000"/>
<line x1="221.25" y1="355.67" x2="221.25" y2="359.94" stroke="#000" stroke-width="0.85"/>
<line x1="219.05" y1="355.67" x2="223.45" y2="355.67" stroke="#000" stroke-width="0.85"/>
<rect x="217.25" y="359.94" width="8.0" height="35.06" fill="#000"/>
<line x1="240.75" y1="264.66" x2="240.75" y2="270.56" stroke="#000" stroke-width="0.85"/>
<line x1="238.55" y1="264.66" x2="242.95" y2="264.66" stroke="#000" stroke-width="0.85"/>
<rect x="236.75" y="270.56" width="8.0" height="36.04" fill="#000"/>
<line x1="240.75" y1="358.47" x2="240.75" y2="360.38" stroke="#000" stroke-width="0.85"/>
<line x1="238.55" y1="358.47" x2="242.95" y2="358.47" stroke="#000" stroke-width="0.85"/>
<rect x="236.75" y="360.38" width="8.0" height="34.62" fill="#000"/>
<line x1="260.25" y1="303.55" x2="260.25" y2="305.58" stroke="#000" stroke-width="0.85"/>
<line x1="258.05" y1="303.55" x2="262.45" y2="303.55" stroke="#000" stroke-width="0.85"/>
<rect x="256.25" y="305.58" width="8.0" height="1.02" fill="#000"/>
<line x1="260.25" y1="381.74" x2="260.25" y2="381.89" stroke="#000" stroke-width="0.85"/>
<line x1="258.05" y1="381.74" x2="262.45" y2="381.74" stroke="#000" stroke-width="0.85"/>
<rect x="256.25" y="381.89" width="8.0" height="13.11" fill="#000"/>
<line x1="279.75" y1="284.20" x2="279.75" y2="285.83" stroke="#000" stroke-width="0.85"/>
<line x1="277.55" y1="284.20" x2="281.95" y2="284.20" stroke="#000" stroke-width="0.85"/>
<rect x="275.75" y="285.83" width="8.0" height="20.77" fill="#000"/>
<line x1="279.75" y1="362.89" x2="279.75" y2="365.69" stroke="#000" stroke-width="0.85"/>
<line x1="277.55" y1="362.89" x2="281.95" y2="362.89" stroke="#000" stroke-width="0.85"/>
<rect x="275.75" y="365.69" width="8.0" height="29.31" fill="#000"/>
<line x1="299.25" y1="276.47" x2="299.25" y2="278.10" stroke="#000" stroke-width="0.85"/>
<line x1="297.05" y1="276.47" x2="301.45" y2="276.47" stroke="#000" stroke-width="0.85"/>
<rect x="295.25" y="278.10" width="8.0" height="28.50" fill="#000"/>
<line x1="299.25" y1="369.08" x2="299.25" y2="370.55" stroke="#000" stroke-width="0.85"/>
<line x1="297.05" y1="369.08" x2="301.45" y2="369.08" stroke="#000" stroke-width="0.85"/>
<rect x="295.25" y="370.55" width="8.0" height="24.45" fill="#000"/>
<line x1="318.75" y1="278.30" x2="318.75" y2="280.34" stroke="#000" stroke-width="0.85"/>
<line x1="316.55" y1="278.30" x2="320.95" y2="278.30" stroke="#000" stroke-width="0.85"/>
<rect x="314.75" y="280.34" width="8.0" height="26.26" fill="#000"/>
<line x1="318.75" y1="368.04" x2="318.75" y2="370.55" stroke="#000" stroke-width="0.85"/>
<line x1="316.55" y1="368.04" x2="320.95" y2="368.04" stroke="#000" stroke-width="0.85"/>
<rect x="314.75" y="370.55" width="8.0" height="24.45" fill="#000"/>
<line x1="338.25" y1="304.16" x2="338.25" y2="304.56" stroke="#000" stroke-width="0.85"/>
<line x1="336.05" y1="304.16" x2="340.45" y2="304.16" stroke="#000" stroke-width="0.85"/>
<rect x="334.25" y="304.56" width="8.0" height="2.04" fill="#000"/>
<line x1="338.25" y1="369.37" x2="338.25" y2="373.05" stroke="#000" stroke-width="0.85"/>
<line x1="336.05" y1="369.37" x2="340.45" y2="369.37" stroke="#000" stroke-width="0.85"/>
<rect x="334.25" y="373.05" width="8.0" height="21.95" fill="#000"/>
<line x1="357.75" y1="227.40" x2="357.75" y2="232.08" stroke="#000" stroke-width="0.85"/>
<line x1="355.55" y1="227.40" x2="359.95" y2="227.40" stroke="#000" stroke-width="0.85"/>
<rect x="353.75" y="232.08" width="8.0" height="74.52" fill="#000"/>
<line x1="357.75" y1="321.64" x2="357.75" y2="325.47" stroke="#000" stroke-width="0.85"/>
<line x1="355.55" y1="321.64" x2="359.95" y2="321.64" stroke="#000" stroke-width="0.85"/>
<rect x="353.75" y="325.47" width="8.0" height="69.53" fill="#000"/>
<line x1="377.25" y1="233.91" x2="377.25" y2="236.15" stroke="#000" stroke-width="0.85"/>
<line x1="375.05" y1="233.91" x2="379.45" y2="233.91" stroke="#000" stroke-width="0.85"/>
<rect x="373.25" y="236.15" width="8.0" height="70.45" fill="#000"/>
<line x1="377.25" y1="338.88" x2="377.25" y2="344.48" stroke="#000" stroke-width="0.85"/>
<line x1="375.05" y1="338.88" x2="379.45" y2="338.88" stroke="#000" stroke-width="0.85"/>
<rect x="373.25" y="344.48" width="8.0" height="50.52" fill="#000"/>
<line x1="396.75" y1="228.62" x2="396.75" y2="236.77" stroke="#000" stroke-width="0.85"/>
<line x1="394.55" y1="228.62" x2="398.95" y2="228.62" stroke="#000" stroke-width="0.85"/>
<rect x="392.75" y="236.77" width="8.0" height="69.83" fill="#000"/>
<line x1="396.75" y1="354.35" x2="396.75" y2="359.21" stroke="#000" stroke-width="0.85"/>
<line x1="394.55" y1="354.35" x2="398.95" y2="354.35" stroke="#000" stroke-width="0.85"/>
<rect x="392.75" y="359.21" width="8.0" height="35.79" fill="#000"/>
<line x1="172.50" y1="306.60" x2="406.50" y2="306.60" stroke="#111" stroke-width="1.5"/>
<line x1="172.50" y1="395.00" x2="406.50" y2="395.00" stroke="#333" stroke-width="1.0"/>
<text x="278.00" y="284.97" font-size="9.5" text-anchor="middle" font-weight="bold" fill="#000" >*</text>
<text x="281.50" y="284.97" font-size="9.5" text-anchor="middle" font-weight="bold" fill="#000" >*</text>
<text x="356.00" y="229.37" font-size="9.5" text-anchor="middle" font-weight="bold" fill="#000" >*</text>
<text x="359.50" y="229.37" font-size="9.5" text-anchor="middle" font-weight="bold" fill="#000" >*</text>
<text x="375.50" y="235.67" font-size="9.5" text-anchor="middle" font-weight="bold" fill="#000" >*</text>
<text x="379.00" y="235.67" font-size="9.5" text-anchor="middle" font-weight="bold" fill="#000" >*</text>
<text x="396.75" y="230.47" font-size="9.5" text-anchor="middle" font-weight="bold" fill="#000" >*</text>
<text x="279.75" y="363.97" font-size="9.5" text-anchor="middle" font-weight="bold" fill="#000" >*</text>
<text x="299.25" y="371.47" font-size="9.5" text-anchor="middle" font-weight="bold" fill="#000" >*</text>
<text x="317.00" y="367.97" font-size="9.5" text-anchor="middle" font-weight="bold" fill="#000" >*</text>
<text x="320.50" y="367.97" font-size="9.5" text-anchor="middle" font-weight="bold" fill="#000" >*</text>
<text x="357.75" y="322.07" font-size="9.5" text-anchor="middle" font-weight="bold" fill="#000" >*</text>
<text x="377.25" y="339.17" font-size="9.5" text-anchor="middle" font-weight="bold" fill="#000" >*</text>
<text transform="translate(154.4,405.1) scale(1.18,1.0)" font-size="7.4">&#945;</text>
<text transform="translate(159.70,405.10) scale(1,1.02)" font-size="7.4" text-anchor="start" font-weight="normal" fill="#000" >IgM</text>
<text transform="translate(182.15,405.00) scale(1,1.13)" font-size="7" text-anchor="middle" font-weight="normal" fill="#000" >0&#8242;</text>
<text transform="translate(201.65,405.00) scale(1,1.13)" font-size="7" text-anchor="middle" font-weight="normal" fill="#000" >3&#8242;</text>
<text transform="translate(221.15,405.00) scale(1,1.13)" font-size="7" text-anchor="middle" font-weight="normal" fill="#000" >10&#8242;</text>
<text transform="translate(240.65,405.00) scale(1,1.13)" font-size="7" text-anchor="middle" font-weight="normal" fill="#000" >30&#8242;</text>
<text transform="translate(260.15,405.00) scale(1,1.13)" font-size="7" text-anchor="middle" font-weight="normal" fill="#000" >0&#8242;</text>
<text transform="translate(279.65,405.00) scale(1,1.13)" font-size="7" text-anchor="middle" font-weight="normal" fill="#000" >3&#8242;</text>
<text transform="translate(299.15,405.00) scale(1,1.13)" font-size="7" text-anchor="middle" font-weight="normal" fill="#000" >10&#8242;</text>
<text transform="translate(318.65,405.00) scale(1,1.13)" font-size="7" text-anchor="middle" font-weight="normal" fill="#000" >30&#8242;</text>
<text transform="translate(338.15,405.00) scale(1,1.13)" font-size="7" text-anchor="middle" font-weight="normal" fill="#000" >0&#8242;</text>
<text transform="translate(357.65,405.00) scale(1,1.13)" font-size="7" text-anchor="middle" font-weight="normal" fill="#000" >3&#8242;</text>
<text transform="translate(377.15,405.00) scale(1,1.13)" font-size="7" text-anchor="middle" font-weight="normal" fill="#000" >10&#8242;</text>
<text transform="translate(396.65,405.00) scale(1,1.13)" font-size="7" text-anchor="middle" font-weight="normal" fill="#000" >30&#8242;</text>
<line x1="179.00" y1="408.60" x2="244.40" y2="408.60" stroke="#888" stroke-width="1.3"/>
<line x1="256.50" y1="408.60" x2="322.50" y2="408.60" stroke="#888" stroke-width="1.3"/>
<line x1="334.80" y1="408.60" x2="397.80" y2="408.60" stroke="#888" stroke-width="1.3"/>
<text transform="translate(211.90,416.50) scale(1,1.13)" font-size="7.2" text-anchor="middle" font-weight="normal" fill="#000" >CONT</text>
<text transform="translate(288.60,416.50) scale(1,1.13)" font-size="7.2" text-anchor="middle" font-weight="normal" fill="#000" >WT</text>
<text transform="translate(368.00,416.50) scale(1,1.13)" font-size="7.2" text-anchor="middle" font-weight="normal" fill="#000" >dSH3ABC</text>
</svg></body></html>
